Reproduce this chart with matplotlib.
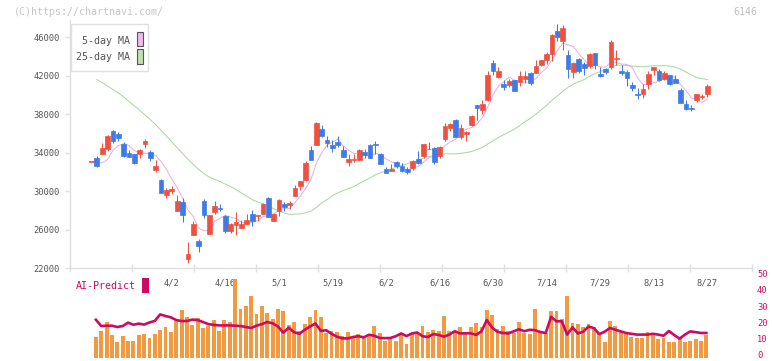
import numpy as np
import pandas as pd
import matplotlib
matplotlib.use("Agg")
import matplotlib.pyplot as plt
import matplotlib.transforms as mtrans
from matplotlib.patches import Rectangle

# daily candles for 6146 (index 0 = first candle shown)
opens = [33050, 33380, 33870, 34390, 36230, 35950, 34870, 33970, 33830, 33830,
         34910, 34040, 32200, 31130, 29600, 30020, 27930, 28840, 22940, 25440,
         24810, 28940, 25570, 27830, 28250, 27380, 25850, 26510, 26160, 26580,
         27660, 27410, 27650, 29280, 26890, 27890, 28690, 28580, 29450, 30490,
         31110, 34230, 34820, 36410, 35270, 34750, 35100, 34230, 33020, 33260,
         33260, 34060, 34750, 34920, 33890, 32260, 32080, 33020, 32600, 32330,
         32400, 33300, 33640, 34400, 34470, 33640, 35380, 36590, 37350, 35620,
         35930, 36830, 38900, 38380, 39420, 43300, 41840, 41080, 41050, 41500,
         41320, 41600, 42290, 42260, 43060, 43580, 44200, 46590, 45580, 44090,
         42360, 43680, 43160, 42990, 44340, 42190, 42640, 42880, 43670, 42430,
         42360, 40980, 40040, 40040, 41080, 42530, 42430, 41600, 42010, 41600,
         40530, 39000, 38620, 39420, 39770, 40040]
highs = [33080, 33630, 35010, 35810, 36330, 36120, 35080, 34250, 33830, 34350,
         35390, 34250, 33210, 31230, 30290, 30500, 29570, 29290, 24710, 26860,
         24980, 29150, 27480, 28940, 28630, 27480, 26690, 27800, 26960, 27660,
         28000, 27480, 28760, 29350, 27720, 29170, 28830, 28930, 30590, 31010,
         33080, 34650, 37140, 36820, 35680, 35330, 35680, 34650, 33820, 33890,
         34410, 34410, 34920, 35170, 33960, 32500, 32850, 33090, 32950, 32500,
         33260, 34130, 34860, 35130, 34580, 34650, 37110, 37070, 37450, 36930,
         36240, 37940, 38900, 39420, 42430, 43580, 42880, 41490, 41670, 41570,
         42430, 42430, 42360, 43580, 43580, 44450, 46340, 47320, 47210, 44620,
         43400, 43820, 43400, 44380, 44340, 42880, 42810, 45650, 44620, 43130,
         42530, 41330, 40660, 41080, 42430, 42880, 42640, 42430, 42080, 42010,
         40700, 39420, 38970, 40110, 40110, 41150]
lows = [33050, 32510, 33870, 34180, 35010, 35220, 33560, 33560, 32830, 33380,
        34490, 33140, 31990, 29810, 29290, 29700, 27930, 26790, 22520, 25440,
        23670, 27210, 25570, 27660, 27930, 25640, 25640, 25440, 26160, 26580,
        26370, 26890, 27580, 27300, 26890, 27410, 27890, 28100, 29450, 30140,
        31010, 33190, 34820, 35620, 34580, 34060, 34580, 33540, 32610, 33020,
        33260, 33470, 33430, 33890, 32850, 31880, 32050, 32400, 31980, 31810,
        32160, 32780, 33430, 34340, 32780, 33430, 35170, 36240, 35620, 35450,
        35170, 36730, 37350, 38030, 39350, 42020, 41770, 40530, 40800, 40390,
        40910, 41250, 41050, 42260, 42950, 43230, 43510, 45580, 44620, 41770,
        41770, 42260, 42010, 42780, 42710, 41850, 42190, 42710, 43060, 42080,
        40940, 40390, 39520, 39660, 40560, 42010, 41390, 41500, 40980, 41220,
        39140, 38380, 38310, 39240, 39520, 39770]
closes = [33080, 32620, 34460, 35710, 35220, 35530, 33660, 33560, 32930, 34250,
          35190, 33450, 32580, 29810, 30090, 30220, 28940, 27520, 23490, 26550,
          24290, 27550, 27480, 28420, 28110, 25850, 26550, 26750, 26620, 26960,
          26890, 27480, 28690, 27300, 27580, 29030, 28340, 28720, 30350, 31010,
          32910, 33190, 37070, 35720, 34990, 34470, 34750, 33540, 33370, 33370,
          34230, 33780, 33430, 34750, 32850, 31880, 32260, 32600, 32080, 31980,
          33090, 32950, 34860, 34340, 33020, 34580, 36730, 36930, 35620, 36590,
          36140, 37800, 38660, 39000, 42020, 42470, 42470, 40800, 41430, 40390,
          41910, 41910, 41220, 42950, 43580, 44200, 46170, 46000, 46900, 42640,
          43300, 42470, 42780, 44200, 43060, 41950, 42360, 45480, 43850, 42290,
          41770, 40700, 40010, 40560, 42120, 42880, 41500, 42290, 41080, 41220,
          39140, 38480, 38480, 40110, 39840, 40870]

# averages before enough candles are on screen
ma5_head = [np.nan, 32970, 32930, 33280]
ma25_head = [np.nan, 41580, 41250, 40900, 40550, 40200, 39780, 39300, 38850,
             38400, 37900, 37400, 36900, 36300, 35700, 35100, 34500, 33900,
             33300, 32750, 32250, 31800, 31450, 31200]

# lower panel, from the 2nd candle on
volume = [13.0, 16.7, 22.3, 14.3, 9.9, 13.6, 10.5, 10.5, 14.3, 14.9,
          12.4, 14.9, 17.4, 19.2, 16.1, 22.9, 29.8, 25.4, 20.5, 24.8,
          18.6, 19.8, 23.6, 16.7, 23.6, 22.3, 49.2, 30.4, 32.2, 38.4,
          27.3, 32.2, 27.9, 24.2, 30.4, 29.1, 20.5, 22.3,
          16.5, 21.1, 25.4, 29.8, 25.4, 15.5, 16.7, 16.1, 13.6, 16.1,
          13.0, 14.9, 12.4, 13.6, 19.8, 15.5, 10.5, 12.4, 10.5, 14.3,
          8.7, 15.5, 16.1, 19.8, 16.1, 17.4, 16.7, 26.0, 16.7, 16.1,
          19.2, 14.9, 19.2, 21.7, 19.2, 29.8, 26.7, 18.0, 19.8,
          16.7, 15.5, 22.3, 15.5, 14.9, 30.4, 16.1, 15.5, 29.1, 29.1,
          24.2, 38.4, 21.7, 21.1, 19.2, 21.1, 19.2, 15.5, 9.9, 22.9,
          19.8, 16.1, 14.9, 13.0, 12.4, 12.4, 16.1, 14.9, 11.8, 12.4,
          9.9, 9.9, 12.4, 9.9, 10.5, 11.8, 10.5, 14.3]
ai_predict = [23.7, 19.8, 20.0, 20.0, 19.2, 19.8, 21.9, 20.6, 21.3, 20.7,
              22.0, 23.0, 27.0, 26.0, 25.2, 23.5, 22.9, 22.9, 23.8, 23.5,
              22.3, 21.0, 20.5, 20.2, 20.2, 20.2, 20.0, 19.8, 19.2, 18.6,
              20.0, 21.0, 22.3, 21.5, 19.5, 15.7, 18.8, 16.0,
              15.0, 17.5, 19.5, 21.4, 16.8, 17.2, 15.0, 13.2, 12.2, 12.1,
              13.0, 13.5, 12.8, 14.4, 13.8, 12.4, 12.3, 12.4, 13.5, 15.2,
              13.6, 15.2, 15.8, 13.5, 13.0, 14.8, 14.3, 13.2, 14.5, 16.6,
              15.2, 15.3, 15.3, 14.3, 16.5, 23.5, 18.8, 16.2, 15.5,
              15.2, 16.5, 17.8, 16.6, 17.5, 17.2, 16.1, 15.5, 25.5, 22.7,
              22.8, 14.5, 19.0, 15.2, 16.3, 19.5, 18.5, 14.8, 16.3, 18.6,
              17.5, 16.5, 15.5, 15.0, 14.5, 14.5, 14.5, 15.0, 14.5, 13.8,
              16.7, 14.2, 12.0, 14.5, 16.5, 16.0, 15.5, 15.5]

date_labels = ['4/2', '4/16', '5/1', '5/19', '6/2', '6/16', '6/30',
               '7/14', '7/29', '8/13', '8/27']
date_idx = [15, 25, 35, 45, 55, 65, 75, 85, 95, 105, 115]
price_ticks = [22000, 26000, 30000, 34000, 38000, 42000, 46000]
ai_ticks = [0, 10, 20, 30, 40, 50]

RED = '#ef5140'
BLUE = '#3f7be6'
PINK = '#e6b3e6'
GREEN = '#acd8a0'
ORANGE = '#f29a42'
CRIMSON = '#cc0a60'
AXC = '#e0e0e0'
TXT = '#555555'
MONO = 'DejaVu Sans Mono'

W, H = 772, 361


def px_box(x0, y0, x1, y1):
    return [x0 / W, 1 - y1 / H, (x1 - x0) / W, (y1 - y0) / H]


fig = plt.figure(figsize=(W / 100, H / 100), dpi=100)
ax = fig.add_axes(px_box(70, 20, 752, 268))
ax2 = fig.add_axes(px_box(70, 277.3, 752, 358))
XL = (-4.015, 123.34)

o, h, l, c = (np.array(a, dtype=float) for a in (opens, highs, lows, closes))
idx = np.arange(len(c))

ma5 = pd.Series(c).rolling(5).mean().to_numpy()
ma5[:len(ma5_head)] = ma5_head
ma25 = pd.Series(c).rolling(25).mean().to_numpy()
ma25[:len(ma25_head)] = ma25_head

ax.plot(idx, ma25, color=GREEN, lw=0.75, zorder=2)
ax.plot(idx, ma5, color=PINK, lw=0.75, zorder=2)

col = np.where(c >= o, RED, BLUE)
ax.vlines(idx, l, h, colors=col, lw=0.75, zorder=3)
ax.bar(idx, np.abs(c - o), bottom=np.minimum(o, c), width=0.88,
       color=col, edgecolor=col, lw=0.5, zorder=4)

ax.set_xlim(*XL)
ax.set_ylim(22000, 22000 + 248 * 103.9)
for s in ('top', 'right'):
    ax.spines[s].set_visible(False)
for s in ('left', 'bottom'):
    ax.spines[s].set_color(AXC)
    ax.spines[s].set_linewidth(1.0)
ax.set_yticks(price_ticks)
ax.set_yticklabels([str(v) for v in price_ticks], family=MONO, fontsize=6.3, color=TXT)
ax.tick_params(axis='y', length=3.4, width=1, color=AXC, pad=4.2)
ax.set_xticks(np.linspace(XL[0], XL[1], 12))
ax.set_xticklabels([])
ax.tick_params(axis='x', which='major', direction='inout', length=6, width=1, color=AXC)
ax.set_xticks(date_idx, minor=True)
ax.set_xticklabels(date_labels, minor=True, family=MONO, fontsize=6.3, color=TXT)
ax.tick_params(axis='x', which='minor', length=0, pad=7.5)
ax.patch.set_alpha(0)

# lower panel
k = np.arange(1, len(volume) + 1) - 0.18
ax2.bar(k, volume, width=0.72, color=ORANGE, zorder=2)
ax2.plot(k, ai_predict, color=CRIMSON, lw=1.9, zorder=3)
ax2.set_xlim(*XL)
ax2.set_ylim(0, 50)
for s in ax2.spines.values():
    s.set_visible(False)
ax2.set_xticks([])
ax2.yaxis.tick_right()
ax2.set_yticks(ai_ticks)
ax2.set_yticklabels([str(v) for v in ai_ticks], family=MONO, fontsize=6.3, color=CRIMSON)
ax2.tick_params(axis='y', length=0, pad=3.6)
# nudge the right-hand labels up so the "0" stays inside the image
lift = mtrans.ScaledTranslation(0, 2.5 / 72, fig.dpi_scale_trans)
for lab in ax2.get_yticklabels():
    lab.set_transform(lab.get_transform() + lift)
ax2.patch.set_alpha(0)

# overlay for legend and captions, in pixel units
ov = fig.add_axes([0, 0, 1, 1], zorder=5)
ov.set_xlim(0, W)
ov.set_ylim(H, 0)
ov.axis('off')
ov.text(14, 12, '(C)https://chartnavi.com/', family=MONO, fontsize=7.2,
        color='#c6c6c6', va='center')
ov.text(757, 12, '6146', family=MONO, fontsize=7.2, color='#c0c0c0',
        va='center', ha='right')
ov.add_patch(Rectangle((70.7, 24), 77.3, 47, facecolor='white', edgecolor=AXC, lw=1))
ov.text(129.5, 41.5, '5-day MA', family=MONO, fontsize=7.2, color=TXT, ha='right', va='center')
ov.text(129.5, 57, '25-day MA', family=MONO, fontsize=7.2, color=TXT, ha='right', va='center')
ov.add_patch(Rectangle((136.8, 31.5), 5.7, 14.5, facecolor='#eebaee', edgecolor='#555555', lw=0.8))
ov.add_patch(Rectangle((136.8, 49), 5.7, 14.5, facecolor='#bde0b0', edgecolor='#555555', lw=0.8))
ov.text(76, 286, 'AI-Predict', family=MONO, fontsize=7.2, color=CRIMSON, va='center')
ov.add_patch(Rectangle((142.3, 277.5), 6.7, 15.5, facecolor=CRIMSON, edgecolor='none'))

fig.savefig('out.png', dpi=100)
